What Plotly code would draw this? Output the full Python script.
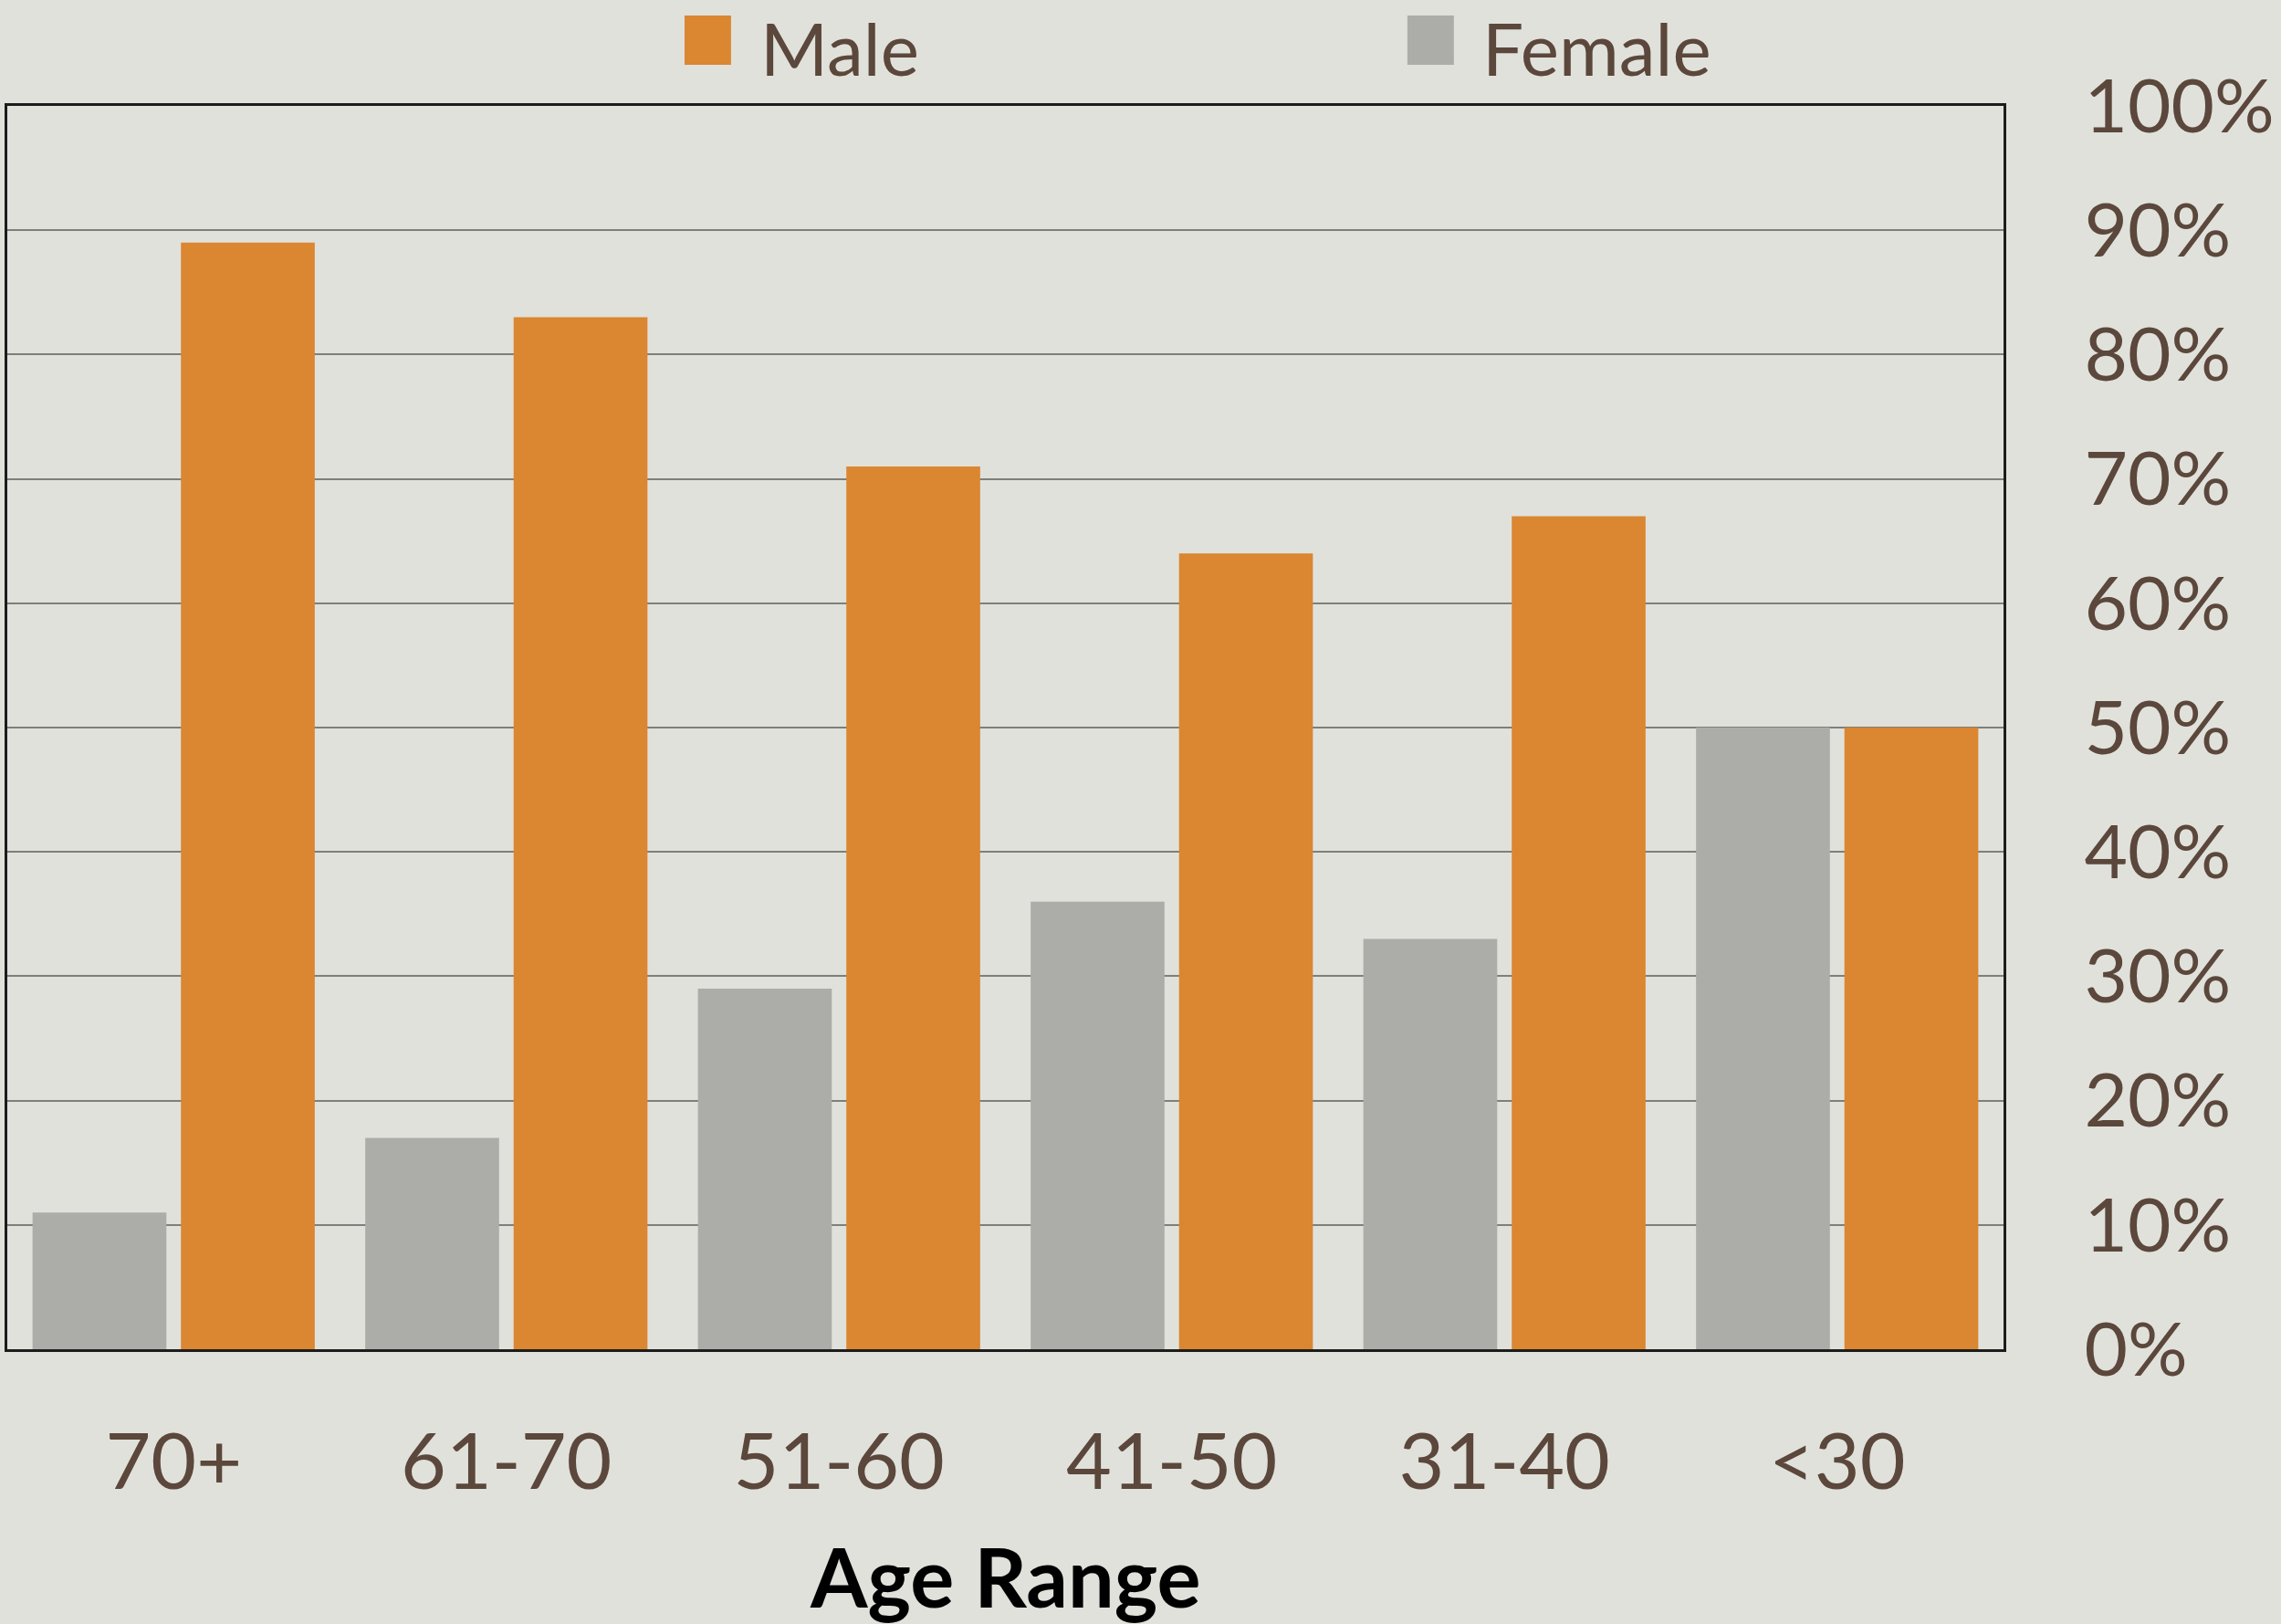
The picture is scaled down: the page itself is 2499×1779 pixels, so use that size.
import plotly.graph_objects as go

# Share of each gender within each age band (percent)
age_ranges = ["70+", "61-70", "51-60", "41-50", "31-40", "<30"]
female_pct = [11, 17, 29, 36, 33, 50]
male_pct = [89, 83, 71, 64, 67, 50]
series_names = ["Male", "Female"]
y_ticks = [0, 10, 20, 30, 40, 50, 60, 70, 80, 90, 100]
y_tick_labels = ["0%", "10%", "20%", "30%", "40%", "50%", "60%", "70%", "80%", "90%", "100%"]

W, H = 2499, 1779
ML, MR, MT, MB = 5, 304, 116, 301
TEXT = "#5B473B"
ORANGE = "#DB8631"
GREY = "#ACADA8"
BG = "#E0E1DB"
FONT = "Lato, 'Open Sans', sans-serif"

fig = go.Figure()
fig.add_trace(go.Bar(x=age_ranges, y=female_pct, name=series_names[1],
                     marker=dict(color=GREY, line=dict(width=0)), showlegend=False))
fig.add_trace(go.Bar(x=age_ranges, y=male_pct, name=series_names[0],
                     marker=dict(color=ORANGE, line=dict(width=0)), showlegend=False))

plot_w = W - ML - MR
plot_h = H - MT - MB


def px_x(p):
    return (p - ML) / plot_w


def px_y(p):
    return (H - MB - p) / plot_h


# Legend drawn as large swatches with labels across the top
legend_items = [(series_names[0], ORANGE, 748, 829), (series_names[1], GREY, 1541, 1621)]
shapes = []
annotations = []
for name, color, sx, tx in legend_items:
    shapes.append(dict(type="rect", xref="paper", yref="paper",
                       x0=px_x(sx), x1=px_x(sx + 51), y0=px_y(71), y1=px_y(17),
                       fillcolor=color, line=dict(width=0), layer="above"))
    annotations.append(dict(text=name, xref="paper", yref="paper",
                            x=px_x(tx), y=px_y(52), xanchor="left", yanchor="middle",
                            showarrow=False, font=dict(family=FONT, size=80, color=TEXT)))

annotations.append(dict(text="<b>Age Range</b>", xref="paper", yref="paper",
                        x=0.5, y=px_y(1670), xanchor="center", yanchor="top",
                        showarrow=False, font=dict(family=FONT, size=90, color="#000000")))

fig.update_layout(
    width=W, height=H,
    margin=dict(l=ML, r=MR, t=MT, b=MB, pad=0),
    paper_bgcolor=BG, plot_bgcolor=BG,
    barmode="group", bargap=0.108, bargroupgap=0.098,
    font=dict(family=FONT, color=TEXT),
    shapes=shapes, annotations=annotations,
    showlegend=False,
)
fig.update_xaxes(
    showgrid=False, showline=True, mirror=True, linecolor="#1c1c1c", linewidth=3,
    ticks="", tickfont=dict(family=FONT, size=86, color=TEXT), ticklabelstandoff=47,
)
fig.update_yaxes(
    side="right", range=[0, 100], tickmode="array", tickvals=y_ticks, ticktext=y_tick_labels,
    showgrid=True, gridcolor="#7E7F7A", gridwidth=2, zeroline=False,
    showline=True, mirror=True, linecolor="#1c1c1c", linewidth=3,
    ticks="", tickfont=dict(family=FONT, size=82, color=TEXT), ticklabelstandoff=69,
)

fig.write_html("out.html")
